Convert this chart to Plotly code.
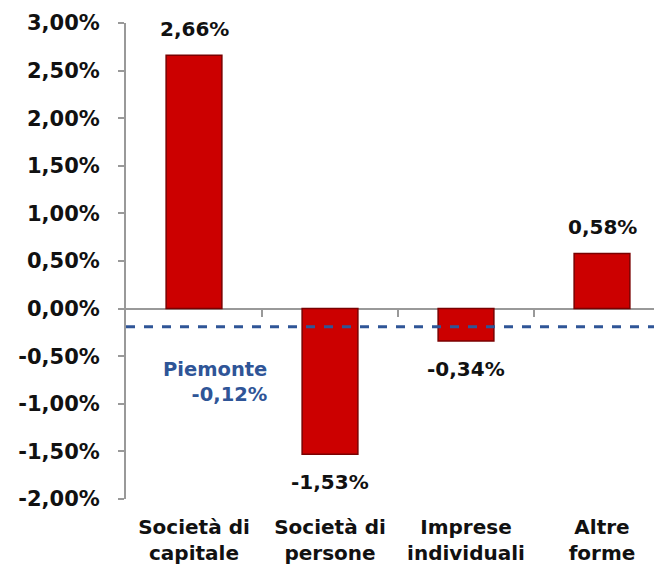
import plotly.graph_objects as go

categories = ["Società di<br>capitale", "Società di<br>persone", "Imprese<br>individuali", "Altre<br>forme"]
values = [2.66, -1.53, -0.34, 0.58]
value_labels = ["2,66%", "-1,53%", "-0,34%", "0,58%"]
piemonte_label = "Piemonte<br>-0,12%"
piemonte_line_level = -0.19
tick_vals = [3.0, 2.5, 2.0, 1.5, 1.0, 0.5, 0.0, -0.5, -1.0, -1.5, -2.0]
tick_text = ["3,00%", "2,50%", "2,00%", "1,50%", "1,00%", "0,50%", "0,00%", "-0,50%", "-1,00%", "-1,50%", "-2,00%"]

FONT = "DejaVu Sans"
TXT = "#111111"

pos = list(range(len(categories)))
lo, hi = -0.5, len(categories) - 0.5

fig = go.Figure()
fig.add_trace(go.Bar(
    x=pos, y=values,
    marker=dict(color="#CC0000", line=dict(color="#7A0000", width=1.5)),
    width=0.41,
))
# dashed Piemonte reference line (drawn on top of bars)
fig.add_trace(go.Scatter(
    x=[lo, hi], y=[piemonte_line_level, piemonte_line_level],
    mode="lines", cliponaxis=False,
    line=dict(color="#2F5597", width=3, dash="dash"),
    hoverinfo="skip",
))
# invisible trace to carry the category-boundary tick marks on the zero line
fig.add_trace(go.Scatter(
    x=[lo, hi], y=[0, 0], xaxis="x2", mode="lines",
    line=dict(width=0), hoverinfo="skip",
))

for p, v, t in zip(pos, values, value_labels):
    fig.add_annotation(
        x=p, y=v, text="<b>" + t + "</b>", showarrow=False,
        yanchor="bottom" if v >= 0 else "top",
        yshift=12 if v >= 0 else -14,
        font=dict(family=FONT, size=20, color=TXT),
    )

fig.add_annotation(
    text="<b>" + piemonte_label + "</b>", xref="paper", yref="y",
    x=0.262, y=-0.5, xanchor="right", yanchor="top", align="right",
    showarrow=False, font=dict(family=FONT, size=19.5, color="#2F5597"),
)

fig.update_layout(
    width=662, height=575,
    margin=dict(l=118, r=0, t=15, b=84),
    paper_bgcolor="white", plot_bgcolor="white",
    showlegend=False,
    font=dict(family=FONT, color=TXT),
    xaxis=dict(
        showline=False, ticks="", showgrid=False, zeroline=False,
        tickvals=pos,
        ticktext=["<b>" + c + "</b>" for c in categories],
        tickfont=dict(family=FONT, size=20, color=TXT),
        ticklabelstandoff=14,
        range=[lo, hi],
    ),
    xaxis2=dict(
        overlaying="x", anchor="free", position=0.4,
        range=[lo, hi], showticklabels=False,
        tickvals=[p + 0.5 for p in pos[:-1]], ticks="outside", ticklen=7,
        tickcolor="#999999", tickwidth=2,
        showline=False, showgrid=False, zeroline=False,
    ),
    yaxis=dict(
        range=[-2.0, 3.0], tickvals=tick_vals,
        ticktext=["<b>" + t + "</b>" for t in tick_text],
        ticks="outside", ticklen=6, tickcolor="#999999", tickwidth=2,
        showline=True, linecolor="#999999", linewidth=2,
        showgrid=False,
        zeroline=True, zerolinecolor="#999999", zerolinewidth=2,
        ticklabelstandoff=14,
        tickfont=dict(family=FONT, size=21, color=TXT),
    ),
)

fig.write_html("out.html")
